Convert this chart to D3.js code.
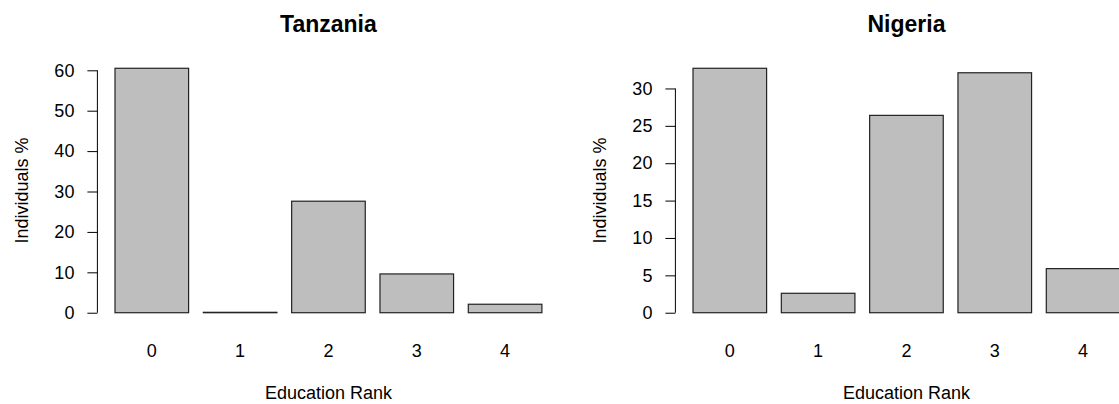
<!DOCTYPE html>
<html>
<head>
<meta charset="utf-8">
<script src="https://cdn.jsdelivr.net/npm/d3@7"></script>
<style>
    body { margin: 0; background: #fff; }
    svg { display: block; font-family: Arial, "Liberation Sans", sans-serif; }
</style>
</head>
<body>
<div id="chart"></div>
<script>
// education rank categories
const ranks = ["0", "1", "2", "3", "4"];

// share of individuals (%) per rank
const tanzaniaValues = [60.5, 0.1, 27.6, 9.6, 2.1];
const nigeriaValues = [32.7, 2.6, 26.4, 32.1, 5.9];

// y tick labels
const tanzaniaTicks = [0, 10, 20, 30, 40, 50, 60];
const nigeriaTicks = [0, 5, 10, 15, 20, 25, 30];

const panels = [
    { title: "Tanzania", values: tanzaniaValues, ticks: tanzaniaTicks },
    { title: "Nigeria", values: nigeriaValues, ticks: nigeriaTicks }
];

let width = 1119, height = 404;
let plot = { left: 97.9, right: 559, top: 58.5, bottom: 322.5 };
let panelOffset = 578;

let svg = d3.select("#chart")
    .append("svg")
    .attr("width", width)
    .attr("height", height);

panels.forEach((p, i) => {
    let g = svg.append("g")
        .attr("transform", `translate(${i * panelOffset},0)`);

    let max = d3.max(p.values);
    let x = d3.scaleBand()
        .domain(ranks)
        .range([plot.left, plot.right])
        .paddingInner(1 / 6)
        .paddingOuter(0.1936);
    let y = d3.scaleLinear()
        .domain([-0.04 * max, 1.04 * max])
        .range([plot.bottom, plot.top]);

    // bars
    g.selectAll(".bar")
        .data(p.values)
        .enter()
        .append("rect")
        .attr("class", "bar")
        .attr("x", (d, j) => x(ranks[j]))
        .attr("y", d => y(d))
        .attr("width", x.bandwidth())
        .attr("height", d => y(0) - y(d))
        .attr("fill", "#bebebe")
        .attr("stroke", "#222")
        .attr("stroke-width", 1.2);

    // y axis (R style: line only between first and last tick)
    let yAxis = g.append("g")
        .attr("transform", `translate(${plot.left - 0.5},0)`)
        .call(d3.axisLeft(y).tickValues(p.ticks).tickSize(10).tickSizeOuter(0).tickPadding(13));
    yAxis.select(".domain").remove();
    yAxis.append("line")
        .attr("y1", y(p.ticks[0]))
        .attr("y2", y(p.ticks[p.ticks.length - 1]))
        .attr("stroke", "#000");
    yAxis.selectAll(".tick line").attr("stroke", "#000");
    yAxis.selectAll(".tick text")
        .attr("fill", "#000")
        .style("font-size", "18px");

    // x labels under bars, no axis line
    g.selectAll(".xlab")
        .data(ranks)
        .enter()
        .append("text")
        .attr("x", d => x(d) + x.bandwidth() / 2)
        .attr("y", 356.5)
        .attr("text-anchor", "middle")
        .style("font-size", "18px")
        .text(d => d);

    let cx = (plot.left + plot.right) / 2;

    // title
    g.append("text")
        .attr("x", cx)
        .attr("y", 32)
        .attr("text-anchor", "middle")
        .style("font-size", "23px")
        .style("font-weight", "bold")
        .text(p.title);

    // axis titles
    g.append("text")
        .attr("x", cx)
        .attr("y", 399)
        .attr("text-anchor", "middle")
        .style("font-size", "18px")
        .text("Education Rank");

    g.append("text")
        .attr("transform", `translate(28,${(plot.top + plot.bottom) / 2}) rotate(-90)`)
        .attr("text-anchor", "middle")
        .style("font-size", "18px")
        .text("Individuals %");
});
</script>
</body>
</html>
